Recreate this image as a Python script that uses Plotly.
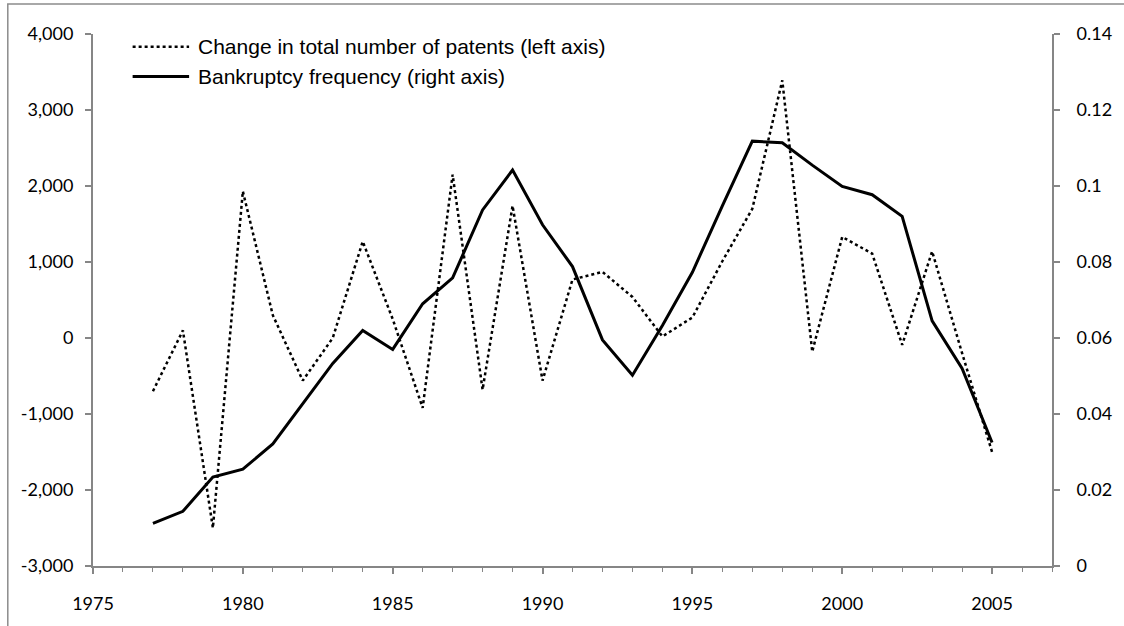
import plotly.graph_objects as go

years = list(range(1977, 2006))
patent_change = [-700, 100, -2500, 1930, 300, -560, 0, 1270, 250, -920,
                 2150, -680, 1740, -560, 770, 870, 540, 20, 270, 1010,
                 1700, 3390, -180, 1330, 1110, -90, 1140, -200, -1500]
bankruptcy_freq = [0.0112, 0.0144, 0.0234, 0.0255, 0.0321, 0.0428, 0.0533, 0.0620,
                   0.0570, 0.0690, 0.0758, 0.0937, 0.1042, 0.0898, 0.0788, 0.0595,
                   0.0502, 0.0633, 0.0773, 0.0948, 0.1118, 0.1114, 0.1055, 0.0999,
                   0.0977, 0.0920, 0.0645, 0.0520, 0.0325]

left_tickvals = [-3000, -2000, -1000, 0, 1000, 2000, 3000, 4000]
left_ticktext = ["-3,000", "-2,000", "-1,000", "0", "1,000", "2,000", "3,000", "4,000"]
right_tickvals = [0, 0.02, 0.04, 0.06, 0.08, 0.1, 0.12, 0.14]
right_ticktext = ["0", "0.02", "0.04", "0.06", "0.08", "0.1", "0.12", "0.14"]
x_tickvals = [1975, 1980, 1985, 1990, 1995, 2000, 2005]

legend_labels = ["Change in total number of patents (left axis)",
                 "Bankruptcy frequency (right axis)"]

AX = "#868686"
TICKFONT = dict(family="Lato, Open Sans, sans-serif", size=18, color="#000000")

fig = go.Figure()
fig.add_trace(go.Scatter(x=years, y=patent_change, mode="lines", name=legend_labels[0],
                         line=dict(color="black", width=2.5, dash="dot"), yaxis="y"))
fig.add_trace(go.Scatter(x=years, y=bankruptcy_freq, mode="lines", name=legend_labels[1],
                         line=dict(color="black", width=3), yaxis="y2"))

W, H = 1124, 626
L, R, T, B = 93, 63, 34, 58
pw, ph = W - L - R, H - T - B

def px(xp):
    return (xp - L) / pw

def py(yp):
    return (H - B - yp) / ph

fig.update_layout(
    width=W, height=H,
    margin=dict(l=L, r=R, t=T, b=B),
    paper_bgcolor="white", plot_bgcolor="white",
    showlegend=False,
    xaxis=dict(range=[1975, 2007], tickvals=x_tickvals, ticks="outside", ticklen=6,
               tickwidth=1.5, tickcolor=AX, showline=True, linecolor=AX, linewidth=2,
               showgrid=False, zeroline=False, tickfont=TICKFONT, ticklabelstandoff=14,
               minor=dict(dtick=1, tick0=1975, ticks="outside", ticklen=4, tickwidth=1.2,
                          tickcolor=AX, showgrid=False)),
    yaxis=dict(range=[-3000, 4000], tickvals=left_tickvals, ticktext=left_ticktext,
               ticks="outside", ticklen=6, tickwidth=1.5, tickcolor=AX, showline=True,
               linecolor=AX, linewidth=2, showgrid=False, zeroline=False,
               tickfont=TICKFONT, ticklabelstandoff=8),
    yaxis2=dict(range=[0, 0.14], tickvals=right_tickvals, ticktext=right_ticktext,
                overlaying="y", side="right", ticks="outside", ticklen=6, tickwidth=1.5,
                tickcolor=AX, showline=True, linecolor=AX, linewidth=2, showgrid=False,
                zeroline=False, tickfont=TICKFONT, ticklabelstandoff=13),
)

# chart-area border (partly cropped like the reference)
fig.add_shape(type="rect", xref="paper", yref="paper",
              x0=px(7), x1=px(1140), y0=py(640), y1=py(4),
              line=dict(color="#8c8c8c", width=1.5), fillcolor="rgba(0,0,0,0)", layer="above")

# manual legend
rows = [46.7, 76.7]
dashes = ["dot", "solid"]
widths = [2.5, 3]
for label, ry, d, w in zip(legend_labels, rows, dashes, widths):
    fig.add_shape(type="line", xref="paper", yref="paper",
                  x0=px(133), x1=px(190), y0=py(ry), y1=py(ry),
                  line=dict(color="black", width=w, dash=d))
    fig.add_annotation(xref="paper", yref="paper", x=px(197), y=py(ry),
                       xanchor="left", yanchor="middle", showarrow=False, text=label,
                       font=dict(family="Liberation Sans, Arial, sans-serif", size=21,
                                 color="#000000"))

fig.write_html("out.html", config={"displayModeBar": False},
               post_script="document.body.style.margin='0';document.body.style.overflow='hidden';")
